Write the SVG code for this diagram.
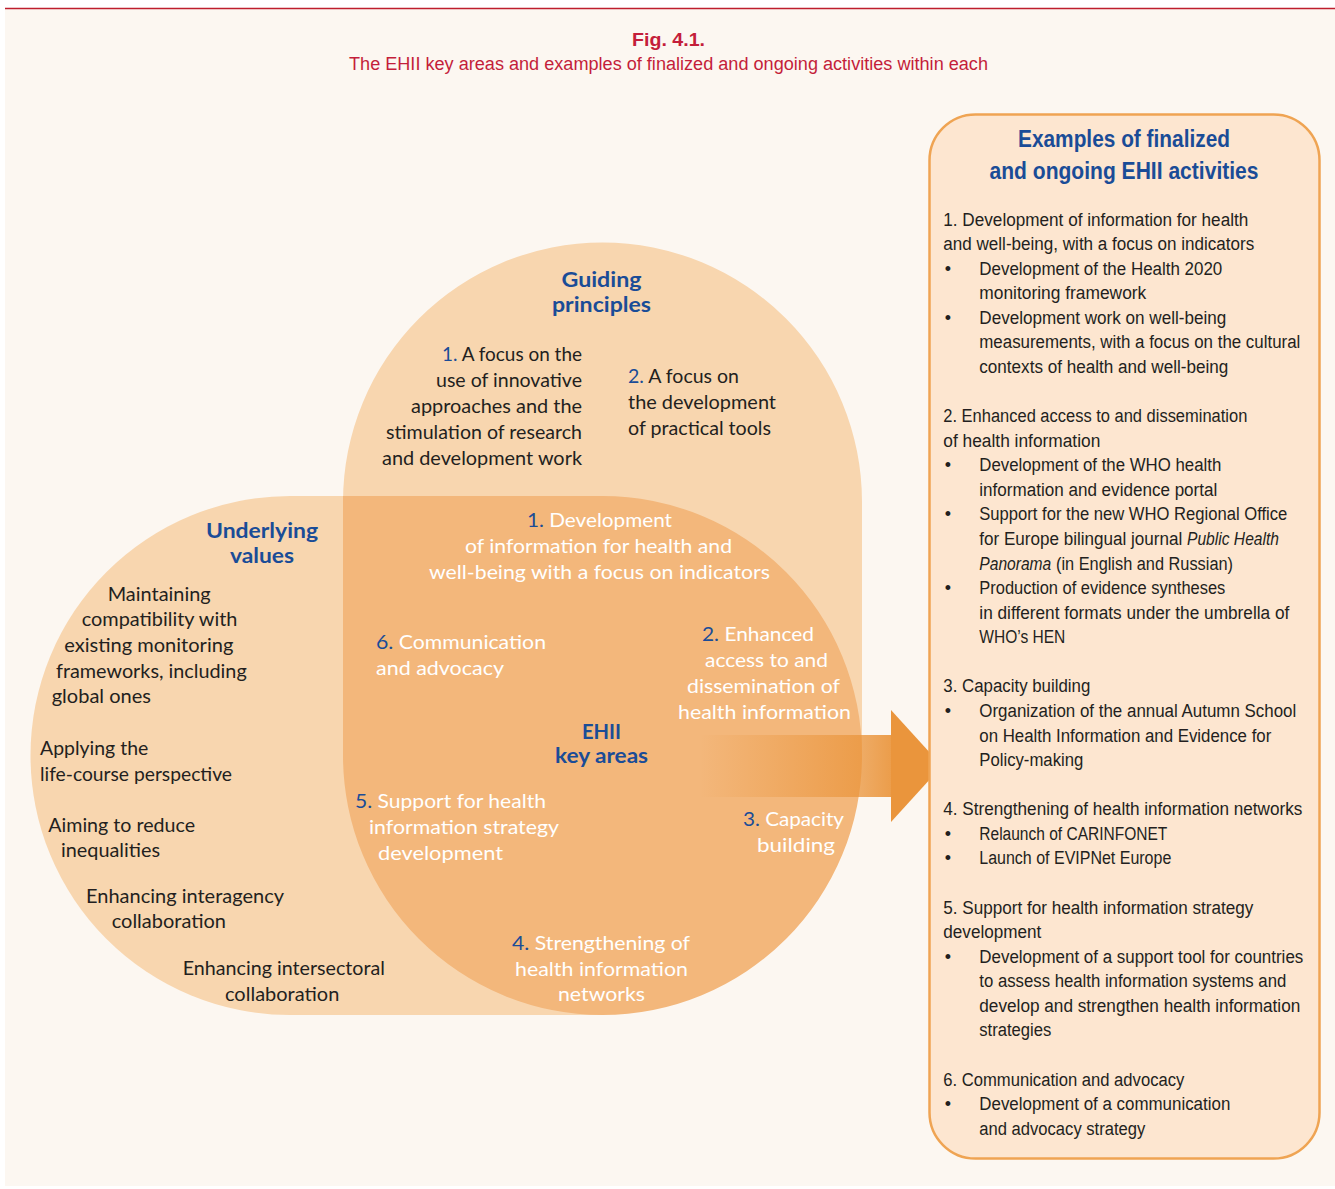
<svg xmlns="http://www.w3.org/2000/svg" width="1335" height="1189" viewBox="0 0 1335 1189">
<style>
.t{font-family:"Lato","Open Sans",sans-serif;font-size:20px;fill:#231F20}
.w{font-family:"Lato","Open Sans",sans-serif;font-size:20px;fill:#FFFFFF}
.h{font-family:"Lato","Open Sans",sans-serif;font-size:21px;font-weight:bold;fill:#1A4C97}
.n{fill:#1A4C97}
.p{font-family:"Liberation Sans",Arial,sans-serif;font-size:18px;fill:#231F20}
.ph{font-family:"Liberation Sans",Arial,sans-serif;font-size:24px;font-weight:bold;fill:#1A4C97}
.b{font-family:"Liberation Sans",Arial,sans-serif;font-size:18px;fill:#231F20;text-anchor:middle}
.r{font-family:"Liberation Sans",Arial,sans-serif;fill:#C41E3A;text-anchor:middle}
</style>
<defs>
<linearGradient id="ag" x1="700" y1="0" x2="892" y2="0" gradientUnits="userSpaceOnUse">
<stop offset="0" stop-color="#EA953C" stop-opacity="0"/>
<stop offset="1" stop-color="#EA953C" stop-opacity="0.92"/>
</linearGradient>
</defs>
<rect x="0" y="0" width="1335" height="1189" fill="#FFFFFF"/>
<rect x="5" y="9" width="1330" height="1177" fill="#FCF7F1"/>
<line x1="5" y1="8.5" x2="1335" y2="8.5" stroke="#BE1E2D" stroke-width="1.5"/>

<g id="title">
<text class="r" x="668.5" y="46" font-size="18" font-weight="bold" textLength="73" lengthAdjust="spacingAndGlyphs">Fig. 4.1.</text>
<text class="r" x="668.5" y="70" font-size="18" textLength="639" lengthAdjust="spacingAndGlyphs">The EHII key areas and examples of finalized and ongoing activities within each</text>
</g>

<g id="underlying-values">
<path d="M602.5,496 L290,496 A259.5,259.5 0 0 0 290,1015 L602.5,1015 Z" fill="#F8D6AF"/>
<text class="h" x="262" y="537.5" text-anchor="middle" textLength="112" lengthAdjust="spacingAndGlyphs">Underlying</text>
<text class="h" x="262" y="563" text-anchor="middle" textLength="64" lengthAdjust="spacingAndGlyphs">values</text>
<text class="t" x="107.7" y="600.7" textLength="103" lengthAdjust="spacingAndGlyphs">Maintaining</text>
<text class="t" x="81.7" y="626.3" textLength="155.7" lengthAdjust="spacingAndGlyphs">compatibility with</text>
<text class="t" x="64.3" y="651.9" textLength="169" lengthAdjust="spacingAndGlyphs">existing monitoring</text>
<text class="t" x="56" y="677.5" textLength="190.7" lengthAdjust="spacingAndGlyphs">frameworks, including</text>
<text class="t" x="51.7" y="703.3" textLength="99.3" lengthAdjust="spacingAndGlyphs">global ones</text>
<text class="t" x="40" y="755" textLength="108.3" lengthAdjust="spacingAndGlyphs">Applying the</text>
<text class="t" x="40" y="780.6" textLength="192" lengthAdjust="spacingAndGlyphs">life-course perspective</text>
<text class="t" x="48.3" y="831.7" textLength="146.7" lengthAdjust="spacingAndGlyphs">Aiming to reduce</text>
<text class="t" x="61" y="856.9" textLength="99" lengthAdjust="spacingAndGlyphs">inequalities</text>
<text class="t" x="86" y="902.7" textLength="198" lengthAdjust="spacingAndGlyphs">Enhancing interagency</text>
<text class="t" x="111.7" y="928.3" textLength="114.3" lengthAdjust="spacingAndGlyphs">collaboration</text>
<text class="t" x="182.7" y="975" textLength="202.3" lengthAdjust="spacingAndGlyphs">Enhancing intersectoral</text>
<text class="t" x="225" y="1000.6" textLength="114.3" lengthAdjust="spacingAndGlyphs">collaboration</text>
</g>

<g id="guiding-principles">
<path d="M343,755.5 L343,502 A259.5,259.5 0 0 1 862,502 L862,755.5 Z" fill="#F8D6AF"/>
<text class="h" x="601.5" y="286.5" text-anchor="middle" textLength="80" lengthAdjust="spacingAndGlyphs">Guiding</text>
<text class="h" x="601.5" y="312" text-anchor="middle" textLength="99" lengthAdjust="spacingAndGlyphs">principles</text>
<text class="t" x="442" y="360.5" textLength="140" lengthAdjust="spacingAndGlyphs"><tspan class="n">1.</tspan> A focus on the</text>
<text class="t" x="436" y="386.5" textLength="146" lengthAdjust="spacingAndGlyphs">use of innovative</text>
<text class="t" x="411" y="412.5" textLength="171" lengthAdjust="spacingAndGlyphs">approaches and the</text>
<text class="t" x="386" y="438.5" textLength="196" lengthAdjust="spacingAndGlyphs">stimulation of research</text>
<text class="t" x="382" y="464.5" textLength="200" lengthAdjust="spacingAndGlyphs">and development work</text>
<text class="t" x="628" y="382.5" textLength="111" lengthAdjust="spacingAndGlyphs"><tspan class="n">2.</tspan> A focus on</text>
<text class="t" x="628" y="408.5" textLength="148" lengthAdjust="spacingAndGlyphs">the development</text>
<text class="t" x="628" y="434.5" textLength="143" lengthAdjust="spacingAndGlyphs">of practical tools</text>
</g>

<g id="ehii-key-areas">
<path d="M343,496 L602.5,496 A259.5,259.5 0 0 1 862,755.5 A259.5,259.5 0 0 1 602.5,1015 A259.5,259.5 0 0 1 343,755.5 Z" fill="#F3B77B"/>
<text class="w" x="527" y="526.5" textLength="145" lengthAdjust="spacingAndGlyphs"><tspan class="n">1.</tspan> Development</text>
<text class="w" x="465" y="552.5" textLength="267" lengthAdjust="spacingAndGlyphs">of information for health and</text>
<text class="w" x="429" y="578.5" textLength="341" lengthAdjust="spacingAndGlyphs">well-being with a focus on indicators</text>
<text class="w" x="376" y="648.5" textLength="170" lengthAdjust="spacingAndGlyphs"><tspan class="n">6.</tspan> Communication</text>
<text class="w" x="376" y="674.5" textLength="128" lengthAdjust="spacingAndGlyphs">and advocacy</text>
<text class="w" x="702" y="640.5" textLength="112" lengthAdjust="spacingAndGlyphs"><tspan class="n">2.</tspan> Enhanced</text>
<text class="w" x="705" y="666.5" textLength="123" lengthAdjust="spacingAndGlyphs">access to and</text>
<text class="w" x="687" y="692.5" textLength="153" lengthAdjust="spacingAndGlyphs">dissemination of</text>
<text class="w" x="678" y="718.5" textLength="173" lengthAdjust="spacingAndGlyphs">health information</text>
<text class="w" x="355" y="807.5" textLength="191" lengthAdjust="spacingAndGlyphs"><tspan class="n">5.</tspan> Support for health</text>
<text class="w" x="369" y="833.5" textLength="190" lengthAdjust="spacingAndGlyphs">information strategy</text>
<text class="w" x="378" y="859.5" textLength="125" lengthAdjust="spacingAndGlyphs">development</text>
<text class="w" x="743" y="825.5" textLength="101" lengthAdjust="spacingAndGlyphs"><tspan class="n">3.</tspan> Capacity</text>
<text class="w" x="757" y="851.5" textLength="78" lengthAdjust="spacingAndGlyphs">building</text>
<text class="w" x="512" y="949.5" textLength="178" lengthAdjust="spacingAndGlyphs"><tspan class="n">4.</tspan> Strengthening of</text>
<text class="w" x="515" y="975.5" textLength="173" lengthAdjust="spacingAndGlyphs">health information</text>
<text class="w" x="558" y="1000.5" textLength="87" lengthAdjust="spacingAndGlyphs">networks</text>
</g>

<g id="connectors">
<rect x="700" y="735" width="192" height="62" fill="url(#ag)"/>
<polygon points="891,710 942,766 891,822" fill="#EA953C"/>
</g>

<g id="ehii-label">
<text class="h" x="601.5" y="738.5" text-anchor="middle" textLength="39" lengthAdjust="spacingAndGlyphs">EHII</text>
<text class="h" x="601.5" y="763" text-anchor="middle" textLength="93" lengthAdjust="spacingAndGlyphs">key areas</text>
</g>

<g id="examples-panel">
<rect x="929.5" y="114.5" width="390" height="1044" rx="46" ry="46" fill="#FDE6D0" stroke="#EFA453" stroke-width="2.5"/>
<text class="ph" x="1124" y="147" text-anchor="middle" textLength="212" lengthAdjust="spacingAndGlyphs">Examples of finalized</text>
<text class="ph" x="1124" y="178.5" text-anchor="middle" textLength="269" lengthAdjust="spacingAndGlyphs">and ongoing EHII activities</text>

<text class="p" x="943.3" y="225.5" textLength="305" lengthAdjust="spacingAndGlyphs">1. Development of information for health</text>
<text class="p" x="943.3" y="250.1" textLength="311" lengthAdjust="spacingAndGlyphs">and well-being, with a focus on indicators</text>
<text class="b" x="948" y="274.6">•</text>
<text class="p" x="979.3" y="274.6" textLength="243" lengthAdjust="spacingAndGlyphs">Development of the Health 2020</text>
<text class="p" x="979.3" y="299.2" textLength="167" lengthAdjust="spacingAndGlyphs">monitoring framework</text>
<text class="b" x="948" y="323.8">•</text>
<text class="p" x="979.3" y="323.8" textLength="247" lengthAdjust="spacingAndGlyphs">Development work on well-being</text>
<text class="p" x="979.3" y="348.4" textLength="321" lengthAdjust="spacingAndGlyphs">measurements, with a focus on the cultural</text>
<text class="p" x="979.3" y="372.9" textLength="249" lengthAdjust="spacingAndGlyphs">contexts of health and well-being</text>

<text class="p" x="943.3" y="422.1" textLength="304" lengthAdjust="spacingAndGlyphs">2. Enhanced access to and dissemination</text>
<text class="p" x="943.3" y="446.6" textLength="157" lengthAdjust="spacingAndGlyphs">of health information</text>
<text class="b" x="948" y="471.2">•</text>
<text class="p" x="979.3" y="471.2" textLength="242" lengthAdjust="spacingAndGlyphs">Development of the WHO health</text>
<text class="p" x="979.3" y="495.8" textLength="238" lengthAdjust="spacingAndGlyphs">information and evidence portal</text>
<text class="b" x="948" y="520.3">•</text>
<text class="p" x="979.3" y="520.3" textLength="308" lengthAdjust="spacingAndGlyphs">Support for the new WHO Regional Office</text>
<text class="p" x="979.3" y="544.9" textLength="203" lengthAdjust="spacingAndGlyphs">for Europe bilingual journal</text>
<text class="p" x="1187" y="544.9" font-style="italic" textLength="92" lengthAdjust="spacingAndGlyphs">Public Health</text>
<text class="p" x="979.3" y="569.5" font-style="italic" textLength="72" lengthAdjust="spacingAndGlyphs">Panorama</text>
<text class="p" x="1056" y="569.5" textLength="177" lengthAdjust="spacingAndGlyphs">(in English and Russian)</text>
<text class="b" x="948" y="594.1">•</text>
<text class="p" x="979.3" y="594.1" textLength="246" lengthAdjust="spacingAndGlyphs">Production of evidence syntheses</text>
<text class="p" x="979.3" y="618.6" textLength="310" lengthAdjust="spacingAndGlyphs">in different formats under the umbrella of</text>
<text class="p" x="979.3" y="643.2" textLength="86" lengthAdjust="spacingAndGlyphs">WHO’s HEN</text>

<text class="p" x="943.3" y="692.3" textLength="147" lengthAdjust="spacingAndGlyphs">3. Capacity building</text>
<text class="b" x="948" y="716.9">•</text>
<text class="p" x="979.3" y="716.9" textLength="317" lengthAdjust="spacingAndGlyphs">Organization of the annual Autumn School</text>
<text class="p" x="979.3" y="741.5" textLength="292" lengthAdjust="spacingAndGlyphs">on Health Information and Evidence for</text>
<text class="p" x="979.3" y="766.1" textLength="104" lengthAdjust="spacingAndGlyphs">Policy-making</text>

<text class="p" x="943.3" y="815.2" textLength="359" lengthAdjust="spacingAndGlyphs">4. Strengthening of health information networks</text>
<text class="b" x="948" y="839.8">•</text>
<text class="p" x="979.3" y="839.8" textLength="188" lengthAdjust="spacingAndGlyphs">Relaunch of CARINFONET</text>
<text class="b" x="948" y="864.4">•</text>
<text class="p" x="979.3" y="864.4" textLength="192" lengthAdjust="spacingAndGlyphs">Launch of EVIPNet Europe</text>

<text class="p" x="943.3" y="913.5" textLength="310" lengthAdjust="spacingAndGlyphs">5. Support for health information strategy</text>
<text class="p" x="943.3" y="938.1" textLength="98" lengthAdjust="spacingAndGlyphs">development</text>
<text class="b" x="948" y="962.6">•</text>
<text class="p" x="979.3" y="962.6" textLength="324" lengthAdjust="spacingAndGlyphs">Development of a support tool for countries</text>
<text class="p" x="979.3" y="987.2" textLength="307" lengthAdjust="spacingAndGlyphs">to assess health information systems and</text>
<text class="p" x="979.3" y="1011.8" textLength="321" lengthAdjust="spacingAndGlyphs">develop and strengthen health information</text>
<text class="p" x="979.3" y="1036.4" textLength="72" lengthAdjust="spacingAndGlyphs">strategies</text>

<text class="p" x="943.3" y="1085.5" textLength="241" lengthAdjust="spacingAndGlyphs">6. Communication and advocacy</text>
<text class="b" x="948" y="1110.1">•</text>
<text class="p" x="979.3" y="1110.1" textLength="251" lengthAdjust="spacingAndGlyphs">Development of a communication</text>
<text class="p" x="979.3" y="1134.6" textLength="166" lengthAdjust="spacingAndGlyphs">and advocacy strategy</text>
</g>
</svg>
